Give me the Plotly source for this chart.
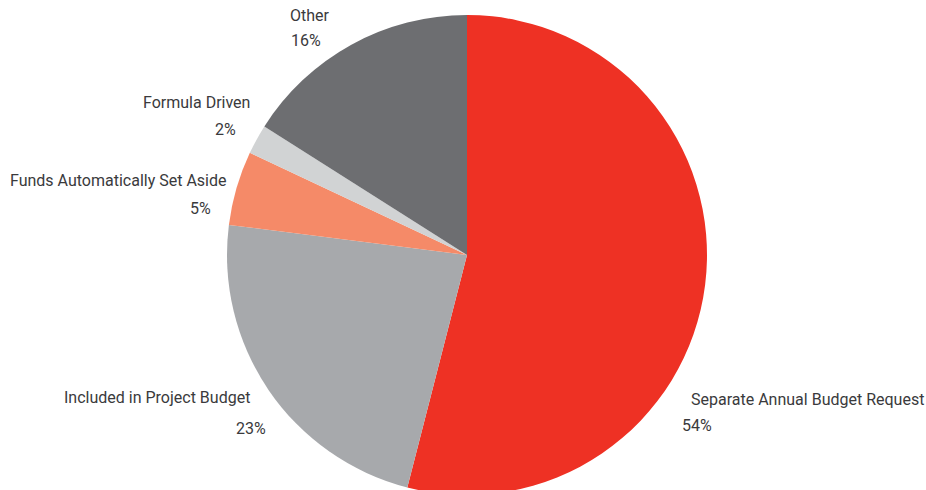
import plotly.graph_objects as go

# Funding sources, clockwise from 12 o'clock
categories = [
    "Separate Annual Budget Request",
    "Included in Project Budget",
    "Funds Automatically Set Aside",
    "Formula Driven",
    "Other",
]
shares = [54, 23, 5, 2, 16]
slice_colors = ["#EE3124", "#A7A9AC", "#F58A68", "#D1D3D4", "#6D6E71"]

W, H = 926, 500
TOP, BOTTOM = 15, 5
PLOT_H = H - TOP - BOTTOM
CX, R = 467, 240


def px(x):
    return x / W


def py(y):
    return (H - BOTTOM - y) / PLOT_H


# label placement in pixels: (name x, name anchor, name y, value x-centre, value y)
label_pos = [
    (689, "left", 399, 697, 425),
    (252, "right", 397, 251, 428),
    (229, "right", 180, 200, 208),
    (252, "right", 102, 225, 129),
    (310, "center", 16, 306, 40),
]

fig = go.Figure(
    go.Pie(
        labels=categories,
        values=shares,
        sort=False,
        direction="clockwise",
        rotation=0,
        marker=dict(colors=slice_colors, line=dict(width=0)),
        textinfo="none",
        hoverinfo="label+percent",
        showlegend=False,
        domain=dict(x=[px(CX - R), px(CX + R)], y=[0, 1]),
    )
)

font = dict(family="Roboto, sans-serif", size=16, color="#3A3A3C")
annotations = []
for name, val, (nx, anchor, ny, vx, vy) in zip(categories, shares, label_pos):
    annotations.append(dict(text=name, x=px(nx), y=py(ny), xref="paper", yref="paper",
                            xanchor=anchor, yanchor="middle", showarrow=False, font=font))
    annotations.append(dict(text=f"{val}%", x=px(vx), y=py(vy), xref="paper", yref="paper",
                            xanchor="center", yanchor="middle", showarrow=False, font=font))

fig.update_layout(
    width=W,
    height=H,
    margin=dict(l=0, r=0, t=TOP, b=BOTTOM),
    paper_bgcolor="white",
    plot_bgcolor="white",
    annotations=annotations,
)

fig.write_html(
    "out.html",
    post_script="document.body.style.margin='0';document.body.style.overflow='hidden';",
)
